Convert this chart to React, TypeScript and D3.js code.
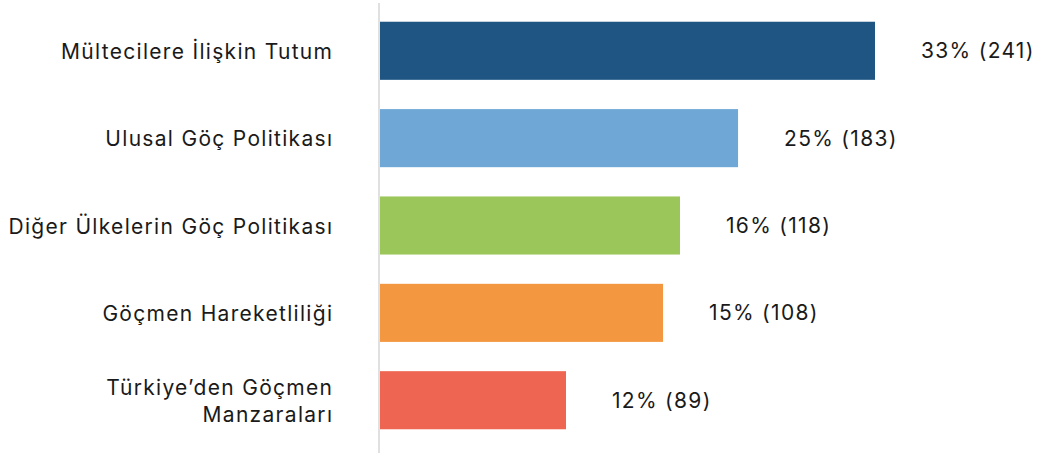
import React from "react";
import * as d3 from "d3";

const categories: string[][] = [
  ["Mültecilere İlişkin Tutum"],
  ["Ulusal Göç Politikası"],
  ["Diğer Ülkelerin Göç Politikası"],
  ["Göçmen Hareketliliği"],
  ["Türkiye’den Göçmen", "Manzaraları"],
];
const percents = [33, 25, 16, 15, 12];
const counts = [241, 183, 118, 108, 89];
// bar lengths as drawn in the reference (relative units)
const barValues = [33, 23.87, 20, 18.87, 12.4];
const colors = ["#1f5582", "#6fa8d6", "#9bc65a", "#f39841", "#ee6651"];

const W = 1046;
const H = 453;
const X0 = 380;

export default function App() {
  const x = d3.scaleLinear().domain([0, 33]).range([X0, X0 + 495]);
  const y = d3
    .scaleBand<number>()
    .domain(d3.range(categories.length))
    .range([13, 438])
    .paddingInner(0.335)
    .paddingOuter(0.1);
  const bw = y.bandwidth();
  const font = "Inter, 'Noto Sans', sans-serif";
  const ls = 1.3;
  const fs = 21;
  return (
    <svg
      width={W}
      height={H}
      style={{ position: "absolute", left: 0, top: 0, background: "#fff" }}
      fontFamily={font}
    >
      <line x1={379} x2={379} y1={3} y2={H} stroke="#d9d9d9" strokeWidth={1.6} />
      {categories.map((lines, i) => {
        const cy = (y(i) as number) + bw / 2;
        const end = x(barValues[i]);
        const lh = 27;
        return (
          <g key={i}>
            <rect x={X0} y={y(i)} width={end - X0} height={bw} fill={colors[i]} />
            <text
              x={332 + ls}
              y={cy}
              textAnchor="end"
              fontSize={fs}
              letterSpacing={ls}
              fill="#1a1a1a"
              dominantBaseline="central"
            >
              {lines.map((l, j) => (
                <tspan key={j} x={332 + ls} y={cy + (j - (lines.length - 1) / 2) * lh}>
                  {l}
                </tspan>
              ))}
            </text>
            <text
              x={end + 46}
              y={cy}
              fontSize={fs}
              letterSpacing={ls}
              fill="#1a1a1a"
              dominantBaseline="central"
            >
              {`${percents[i]}% (${counts[i]})`}
            </text>
          </g>
        );
      })}
    </svg>
  );
}
